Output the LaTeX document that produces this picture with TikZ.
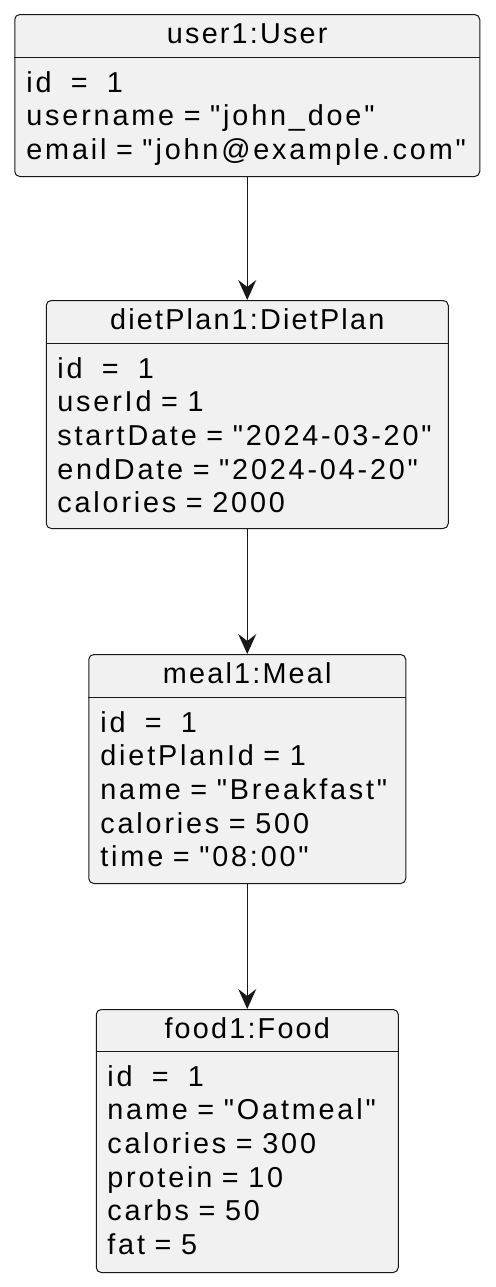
\documentclass[tikz,border=0pt]{standalone}
\usepackage{fontspec}
\setmainfont{Liberation Sans}[LetterSpace=7.6,Ligatures=TeXOff]
\newfontfamily\attrfamily{Liberation Sans}[LetterSpace=9.8,Ligatures=TeXOff]
\usetikzlibrary{arrows.meta}

\definecolor{objfill}{HTML}{F1F1F1}
\definecolor{objline}{HTML}{181818}
\newcommand\objfont{\fontsize{14.4}{16.85}\selectfont}
\newcommand\attrfont{\attrfamily\fontsize{14.4}{16.85}\selectfont}

\begin{document}
\begin{tikzpicture}[
    x=0.5pt,
    y=-0.5pt,
    >={Stealth[length=10pt,width=9pt,inset=3.5pt]},
    obj/.style={
        draw=objline,
        fill=objfill,
        line width=0.5pt,
        rounded corners=2.5pt,
        anchor=north,
        inner sep=0pt
    },
    objtitle/.style={
        anchor=base,
        inner sep=0pt,
        font=\objfont
    },
    attrs/.style={
        anchor=base west,
        inner sep=0pt,
        text width=8cm,
        align=left,
        font=\attrfont
    },
    sepline/.style={
        draw=objline,
        line width=0.5pt
    },
    arr/.style={
        ->,
        line width=0.75pt,
        draw=objline
    }
]

    \useasboundingbox (0,0) rectangle (495,1287);

    % user
    \node[
        obj,
        minimum width=232.5pt,
        minimum height=81pt
    ] (user) at (247.25,14) {};
    \node[objtitle] (userT) at (247.25,43) {user1:User};
    \draw[sepline] (user.west |- 0,57) -- (user.east |- 0,57);
    \node[attrs] (userA) at (26,92)
        {id\ \ =\ \ 1\\
         username = "john\_doe"\\
         email = "john@example.com"};

    % diet plan
    \node[
        obj,
        minimum width=201pt,
        minimum height=114pt
    ] (dietplan) at (247.25,300) {};
    \node[objtitle] (dietplanT) at (247.25,329) {dietPlan1:DietPlan};
    \draw[sepline] (dietplan.west |- 0,343) -- (dietplan.east |- 0,343);
    \node[attrs] (dietplanA) at (57,378)
        {id\ \ =\ \ 1\\
         userId = 1\\
         startDate = "2024-03-20"\\
         endDate = "2024-04-20"\\
         calories = 2000};

    % meal
    \node[
        obj,
        minimum width=158.5pt,
        minimum height=114.5pt
    ] (meal) at (247.25,654) {};
    \node[objtitle] (mealT) at (247.25,683) {meal1:Meal};
    \draw[sepline] (meal.west |- 0,697) -- (meal.east |- 0,697);
    \node[attrs] (mealA) at (100,732)
        {id\ \ =\ \ 1\\
         dietPlanId = 1\\
         name = "Breakfast"\\
         calories = 500\\
         time = "08:00"};

    % food
    \node[
        obj,
        minimum width=151pt,
        minimum height=131.5pt
    ] (food) at (247.25,1009) {};
    \node[objtitle] (foodT) at (247.25,1038) {food1:Food};
    \draw[sepline] (food.west |- 0,1051) -- (food.east |- 0,1051);
    \node[attrs] (foodA) at (107,1086)
        {id\ \ =\ \ 1\\
         name = "Oatmeal"\\
         calories = 300\\
         protein = 10\\
         carbs = 50\\
         fat = 5};

    \draw[arr] (user.south) -- (dietplan.north);
    \draw[arr] (dietplan.south) -- (meal.north);
    \draw[arr] (meal.south) -- (food.north);

\end{tikzpicture}
\end{document}
